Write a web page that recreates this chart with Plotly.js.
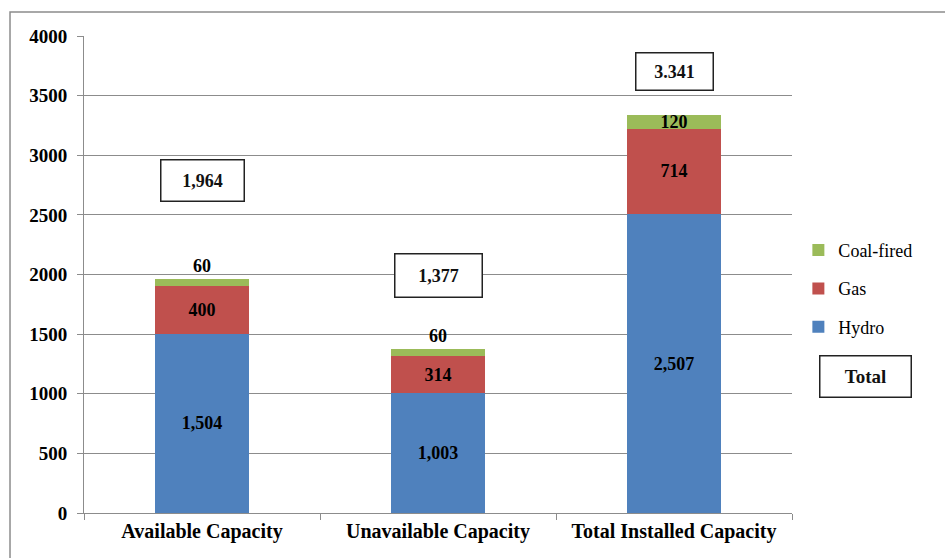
<!DOCTYPE html>
<html>
<head>
<meta charset="utf-8">
<script src="https://cdn.plot.ly/plotly-3.0.1.min.js"></script>
<style>
  html, body { margin: 0; padding: 0; background: #fff; }
  #chart { width: 945px; height: 558px; }
</style>
</head>
<body>
<div id="chart"></div>
<script>
// Capacity breakdown by fuel type (MW)
const categories = ['Available Capacity', 'Unavailable Capacity', 'Total Installed Capacity'];
const hydro = [1504, 1003, 2507];
const gas = [400, 314, 714];
const coal = [60, 60, 120];
const totalLabels = ['1,964', '1,377', '3.341'];
const yTicks = [0, 500, 1000, 1500, 2000, 2500, 3000, 3500, 4000];

const serif = 'Liberation Serif';
const grid = '#8c8c8c';

const fmt = v => v.toLocaleString('en-US');
const totals = categories.map((_, i) => hydro[i] + gas[i] + coal[i]);

function barTrace(name, values, color, rank, textpos) {
  return {
    type: 'bar',
    name: name,
    x: categories,
    y: values,
    legendgroup: name,
    legendrank: rank,
    marker: { color: color, line: { width: 0 } },
    text: values.map(fmt),
    textposition: textpos,
    constraintext: 'none',
    cliponaxis: false,
    textfont: { family: serif, size: 18, color: '#000', weight: 'bold' },
    insidetextanchor: 'middle',
    hoverinfo: 'x+y+name'
  };
}

const traces = [
  barTrace('Hydro', hydro, '#4f81bd', 3, 'inside'),
  barTrace('Gas', gas, '#c0504d', 2, 'inside'),
  barTrace('Coal-fired', coal, '#9bbb59', 1, ['outside', 'outside', 'inside'])
];

// boxed total above each stack, lifted by a per-box pixel offset
const lift = [98, 73, 43];
const boxW = [80, 84, 74];
const boxH = [38, 40, 34];
const annotations = categories.map((c, i) => ({
  x: c, y: totals[i], xref: 'x', yref: 'y',
  text: '<b>' + totalLabels[i] + '</b>',
  showarrow: false, yanchor: 'middle', yshift: lift[i],
  font: { family: serif, size: 18, color: '#111' },
  bordercolor: '#222', borderwidth: 1.5, borderpad: 1,
  bgcolor: '#fff', width: boxW[i], height: boxH[i]
}));
annotations.push({
  xref: 'paper', yref: 'paper', x: 1.1045, y: 0.287,
  text: '<b>Total</b>', showarrow: false,
  xanchor: 'center', yanchor: 'middle',
  font: { family: serif, size: 19, color: '#111' },
  bordercolor: '#222', borderwidth: 1.5, borderpad: 1,
  bgcolor: '#fff', width: 88, height: 38
});

const layout = {
  width: 945, height: 558,
  margin: { l: 84, r: 153, t: 36, b: 45 },
  paper_bgcolor: '#fff', plot_bgcolor: '#fff',
  barmode: 'stack',
  bargap: 0.6,
  showlegend: true,
  font: { family: serif },
  legend: {
    x: 1.009, y: 0.47, xanchor: 'left', yanchor: 'middle',
    traceorder: 'grouped', tracegroupgap: 12,
    font: { family: serif, size: 18, color: '#000' },
    bgcolor: 'rgba(0,0,0,0)', itemwidth: 30
  },
  xaxis: {
    type: 'category',
    showline: true, linecolor: grid, linewidth: 1,
    ticks: 'outside', tickson: 'boundaries', ticklen: 6, tickcolor: grid,
    tickfont: { family: serif, size: 20, color: '#000', weight: 'bold' },
    showgrid: false, zeroline: false, fixedrange: true
  },
  yaxis: {
    range: [0, 4000], tickvals: yTicks, ticktext: yTicks.map(String),
    showline: true, linecolor: grid, linewidth: 1,
    ticks: 'outside', ticklen: 6, tickcolor: grid,
    ticklabelstandoff: 6,
    showgrid: true, gridcolor: grid, gridwidth: 1,
    zeroline: false,
    tickfont: { family: serif, size: 19, color: '#000', weight: 'bold' },
    fixedrange: true
  },
  annotations: annotations,
  shapes: [{
    type: 'rect', xref: 'paper', yref: 'paper', layer: 'below',
    x0: -0.1045, x1: 1.25, y0: -0.12, y1: 1.0503,
    line: { color: '#8c8c8c', width: 1.5 }, fillcolor: 'rgba(0,0,0,0)'
  }]
};

Plotly.newPlot('chart', traces, layout, { displayModeBar: false, staticPlot: true });
</script>
</body>
</html>
